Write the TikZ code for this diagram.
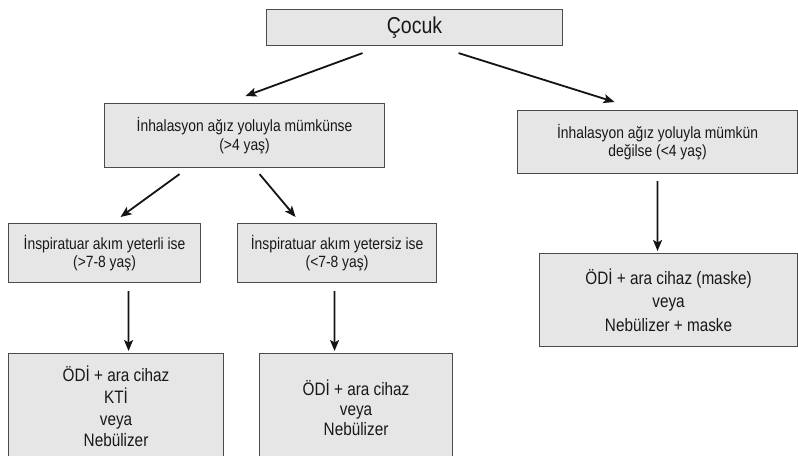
\documentclass[tikz,border=0pt]{standalone}
\usepackage{fontspec}
\setmainfont{Liberation Sans}[FakeStretch=0.85]
\usetikzlibrary{arrows.meta}
\definecolor{boxfill}{HTML}{E6E6E6}
\definecolor{boxdraw}{HTML}{4A4A4A}
\definecolor{txt}{HTML}{181818}
\begin{document}
\begin{tikzpicture}[x=1bp,y=-1bp,
  box/.style={draw=boxdraw, line width=1.1bp, fill=boxfill, anchor=north west,
              inner sep=0pt, align=center, text=txt},
  midtext/.style={font=\fontsize{16.3bp}{18.5bp}\selectfont},
  arr/.style={draw=black!92, line width=1.8bp,
              -{Stealth[length=11bp,width=9bp,inset=2.5bp]}}]
\useasboundingbox (0,0) rectangle (798,456);
\clip (0,0) rectangle (798,456);
\fill[white] (0,0) rectangle (798,456);

\node[box, minimum width=296bp, minimum height=36bp,
      font=\fontsize{23bp}{26bp}\selectfont] (cocuk) at (266,9) {Çocuk};

\node[box, midtext, minimum width=280bp, minimum height=64bp] (lm) at (104,103)
  {İnhalasyon ağız yoluyla mümkünse\\(>4 yaş)};
\node[box, midtext, minimum width=280bp, minimum height=63bp] (rm) at (517,110)
  {İnhalasyon ağız yoluyla mümkün\\değilse (<4 yaş)};

\node[box, midtext, minimum width=192bp, minimum height=59bp] (il) at (8,223)
  {İnspiratuar akım yeterli ise\\(>7-8 yaş)};
\node[box, midtext, minimum width=199bp, minimum height=59bp] (ir) at (237,223)
  {İnspiratuar akım yetersiz ise\\(<7-8 yaş)};

\node[box, font=\fontsize{18bp}{23.5bp}\selectfont, minimum width=258bp, minimum height=93bp] (ro) at (539,253)
  {ÖDİ + ara cihaz (maske)\\veya\\Nebülizer + maske};

\node[box, font=\fontsize{18bp}{21.7bp}\selectfont, minimum width=215bp, minimum height=106bp] (bl) at (8,353)
  {ÖDİ + ara cihaz\\KTİ\\veya\\Nebülizer};
\node[box, font=\fontsize{18bp}{20bp}\selectfont, minimum width=193bp, minimum height=108bp] (bm) at (259,353)
  {ÖDİ + ara cihaz\\veya\\Nebülizer};

\draw[arr] ([shift={(-52,7)}]cocuk.south) -- ([shift={(1,-7)}]lm.north);
\draw[arr] ([shift={(44,7)}]cocuk.south) -- ([shift={(-43,-8)}]rm.north);
\draw[arr] ([shift={(-65,6)}]lm.south) -- ([shift={(16,-6)}]il.north);
\draw[arr] ([shift={(15,6)}]lm.south) -- ([shift={(-41.5,-6)}]ir.north);
\draw[arr] ([shift={(24,8)}]il.south) -- ([shift={(12.5,-2)}]bl.north);
\draw[arr] ([shift={(-2.5,8)}]ir.south) -- ([shift={(-21.5,-2)}]bm.north);
\draw[arr] ([shift={(0,7)}]rm.south) -- ([shift={(-11,-2)}]ro.north);
\end{tikzpicture}
\end{document}
